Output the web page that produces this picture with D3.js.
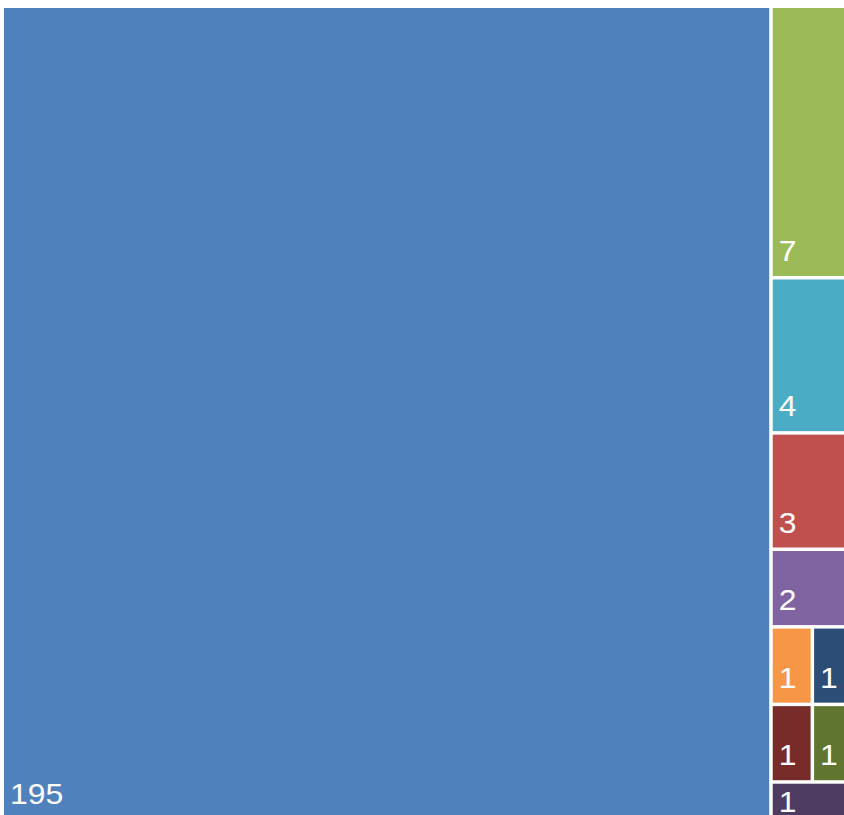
<!DOCTYPE html>
<html>
<head>
<meta charset="utf-8">
<script src="https://cdn.jsdelivr.net/npm/d3@7"></script>
<style>
  html, body { margin: 0; padding: 0; background: #ffffff; overflow: hidden; }
  svg { display: block; }
  .cell-label { fill: #ffffff; font-family: "Liberation Sans", Arial, sans-serif; font-size: 29px; }
</style>
</head>
<body>
<div id="chart"></div>
<script>
// Treemap data: one entry per category, sorted by value (largest first)
const categories = ["A", "B", "C", "D", "E", "F", "G", "H", "I", "J"];
const values = [195, 7, 4, 3, 2, 1, 1, 1, 1, 1];
const colors = ["#4f81bd", "#9bbb59", "#4bacc6", "#c0504d", "#8064a2",
                "#f79646", "#2c4d75", "#772c2a", "#5f7530", "#4d3b62"];

const width = 844, height = 815;
const originX = 4, originY = 8;
const mapW = 848, mapH = 811;

const svg = d3.select("#chart").append("svg")
  .attr("width", width)
  .attr("height", height);

const root = d3.hierarchy({
  children: categories.map((c, i) => ({ name: c, value: values[i], color: colors[i] }))
}).sum(d => d.value || 0);

d3.treemap()
  .tile(d3.treemapSquarify)
  .size([mapW, mapH])
  .paddingInner(3.5)(root);

const g = svg.append("g").attr("transform", `translate(${originX},${originY})`);

const cells = g.selectAll("g.cell")
  .data(root.leaves())
  .join("g")
  .attr("class", "cell");

cells.append("rect")
  .attr("x", d => d.x0)
  .attr("y", d => d.y0)
  .attr("width", d => d.x1 - d.x0)
  .attr("height", d => d.y1 - d.y0)
  .attr("fill", d => d.data.color);

// Value label in the lower-left corner of each cell (slightly widened digits)
cells.append("text")
  .attr("class", "cell-label")
  .attr("transform", d => `translate(${d.x0 + 6},${Math.max(d.y1 - 15, d.y0 + 28)}) scale(1.1,1)`)
  .text(d => d.data.value);
</script>
</body>
</html>
